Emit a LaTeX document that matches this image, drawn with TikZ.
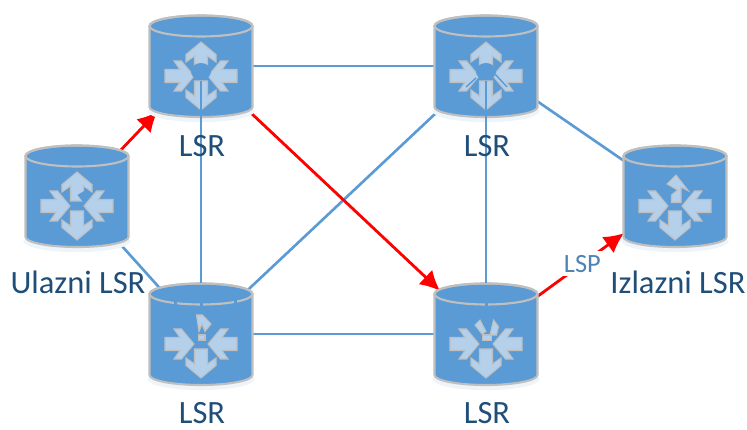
\documentclass[tikz,border=0pt]{standalone}
\usepackage{fontspec}
\setmainfont{Carlito}
\usetikzlibrary{arrows.meta}
\definecolor{lsrblue}{HTML}{5B9BD5}
\definecolor{lsrrim}{HTML}{BFBFBF}
\definecolor{lsricon}{HTML}{B4D0EA}
\definecolor{lsrglow}{HTML}{EDF4FA}
\definecolor{lsrtext}{HTML}{1F4E79}
\tikzset{
    router/.style={inner sep=0pt,minimum width=2.06cm,minimum height=2.04cm},
    lsrlink/.style={draw=lsrblue,line width=1.5pt},
    lsppath/.style={draw=red,line width=1.6pt,shorten >=1.26cm,-{Latex[length=0.4cm,width=0.4cm]}},
    lsrlabel/.style={text=lsrtext,font=\fontsize{18.5}{22}\selectfont,inner sep=0pt},
    lsplabel/.style={text=lsrblue!85!black,font=\fontsize{15}{18}\selectfont,fill=white,inner sep=2pt},
    lsrpiece/.style={draw=lsrrim,fill=lsricon,line width=0.6pt},
    pics/lsrarrow/.style={code={
        \filldraw[lsrpiece] (0,0.13) -- (0.3,0.13) -- (0.18,0.3) -- (0.33,0.3) -- (0.58,0) -- (0.33,-0.3) -- (0.18,-0.3) -- (0.3,-0.13) -- (0,-0.13) -- cycle;
    }},
    pics/lsrcylinder/.style={code={
        \draw[lsrglow,line width=3pt] (-1.03,-0.87) arc[start angle=180,end angle=360,x radius=1.03,y radius=0.2];
        \draw[lsrrim,fill=lsrblue,line width=1.2pt] (-1.03,0.8) -- (-1.03,-0.82) arc[start angle=180,end angle=360,x radius=1.03,y radius=0.2] -- (1.03,0.8) arc[start angle=0,end angle=180,x radius=1.03,y radius=0.21] -- cycle;
        \draw[lsrrim,line width=1.2pt] (0,0.8) ellipse[x radius=1.03,y radius=0.21];
        \pic[rotate=0] at (-0.72,-0.2) {lsrarrow};
        \pic[rotate=180] at (0.72,-0.2) {lsrarrow};
        \pic[rotate=-90] at (0,-0.3) {lsrarrow};
    }}
}
\begin{document}
\begin{tikzpicture}
    \useasboundingbox (0,0) rectangle (14.94,8.6);
    % routers
    \node[router] (ulazni) at (1.54,4.68) {};
    \node[router] (gl) at (4.02,7.28) {};
    \node[router] (gd) at (9.72,7.28) {};
    \node[router] (dl) at (4.02,1.92) {};
    \node[router] (dd) at (9.72,1.92) {};
    \node[router] (izlazni) at (13.5,4.68) {};
    % links
    \draw[lsrlink] (gl.center) -- (gd.center);
    \draw[lsrlink] (gd.center) -- (dl.center);
    \draw[lsrlink] (dl.center) -- (dd.center);
    \draw[lsrlink] (gd.center) -- (izlazni.center);
    \draw[lsrlink] (ulazni.center) -- (dl.center);
    % LSP
    \draw[lsppath] (ulazni.center) -- (gl.center);
    \draw[lsppath] (gl.center) -- (dd.center);
    \draw[lsppath] (dd.center) -- node[lsplabel,pos=0.51] (lsp) {LSP} (izlazni.center);
    % cylinders
    \foreach \r in {ulazni,gl,gd,dl,dd,izlazni}
        \pic at (\r.center) {lsrcylinder};
    \foreach \r in {ulazni,gl,gd}
        \pic[rotate=90] at ([yshift=-0.1cm]\r.center) {lsrarrow};
    % broken icon parts
    \begin{scope}[shift={(ulazni.center)}]
        \fill[lsrblue] (0.01,0.02) -- (0.21,0.14) -- (0.13,-0.13) -- cycle;
    \end{scope}
    \begin{scope}[shift={(gl.center)}]
        \fill[lsrblue] (0,-0.11) ellipse[x radius=0.2,y radius=0.17];
    \end{scope}
    \begin{scope}[shift={(gd.center)}]
        \fill[lsrblue] (0,-0.11) ellipse[x radius=0.2,y radius=0.17];
        \draw[lsrblue,line width=0.8pt] (-0.4,-0.42) -- (-0.2,-0.24);
        \draw[lsrblue,line width=0.8pt] (0.18,-0.16) -- (0.42,-0.42);
    \end{scope}
    \begin{scope}[shift={(dl.center)}]
        \filldraw[lsrpiece] (-0.09,0.38) -- (0.03,0.38) -- (0.2,0.2) -- (0.08,0.05) -- (0.02,0.2) -- (-0.04,0.05) -- cycle;
        \filldraw[lsrpiece] (-0.05,-0.02) rectangle (0.08,-0.12);
        \fill[lsrblue] (-0.03,0.55) rectangle (0.03,0.64);
        \fill[lsrblue] (-0.55,0.56) rectangle (-0.49,0.66);
        \fill[lsrblue] (0.65,0.58) rectangle (0.71,0.68);
    \end{scope}
    \begin{scope}[shift={(dd.center)}]
        \filldraw[lsrpiece] (-0.22,0.18) -- (-0.12,0.28) -- (0,0.05) -- (-0.08,0) -- cycle;
        \filldraw[lsrpiece] (0.15,0.28) -- (0.25,0.15) -- (0.21,-0.02) -- (0.08,-0.02) -- cycle;
        \filldraw[lsrpiece] (-0.07,-0.02) rectangle (0.11,-0.13);
        \fill[lsrblue] (-0.03,0.55) rectangle (0.03,0.64);
    \end{scope}
    \begin{scope}[shift={(izlazni.center)}]
        \filldraw[lsrpiece] (-0.16,0.24) -- (0.02,0.42) -- (0.27,0.1) -- (0.12,0.18) -- (0.12,-0.13) -- (-0.07,-0.13) -- (-0.07,0.02) -- (0.05,0.12) -- cycle;
    \end{scope}
    % vertical links run over the icons
    \draw[lsrlink] ([yshift=-0.3cm]gl.center) -- (dl.north);
    \draw[lsrlink] ([yshift=-0.3cm]gd.center) -- (dd.north);
    % labels
    \node[lsrlabel] (lgl) at (4.04,5.68) {LSR};
    \node[lsrlabel] (lgd) at (9.74,5.68) {LSR};
    \node[lsrlabel] (ldl) at (4.04,0.33) {LSR};
    \node[lsrlabel] (ldd) at (9.74,0.33) {LSR};
    \node[lsrlabel] (lul) at (1.56,2.96) {Ulazni LSR};
    \node[lsrlabel] (liz) at (13.56,2.96) {Izlazni LSR};
\end{tikzpicture}
\end{document}
